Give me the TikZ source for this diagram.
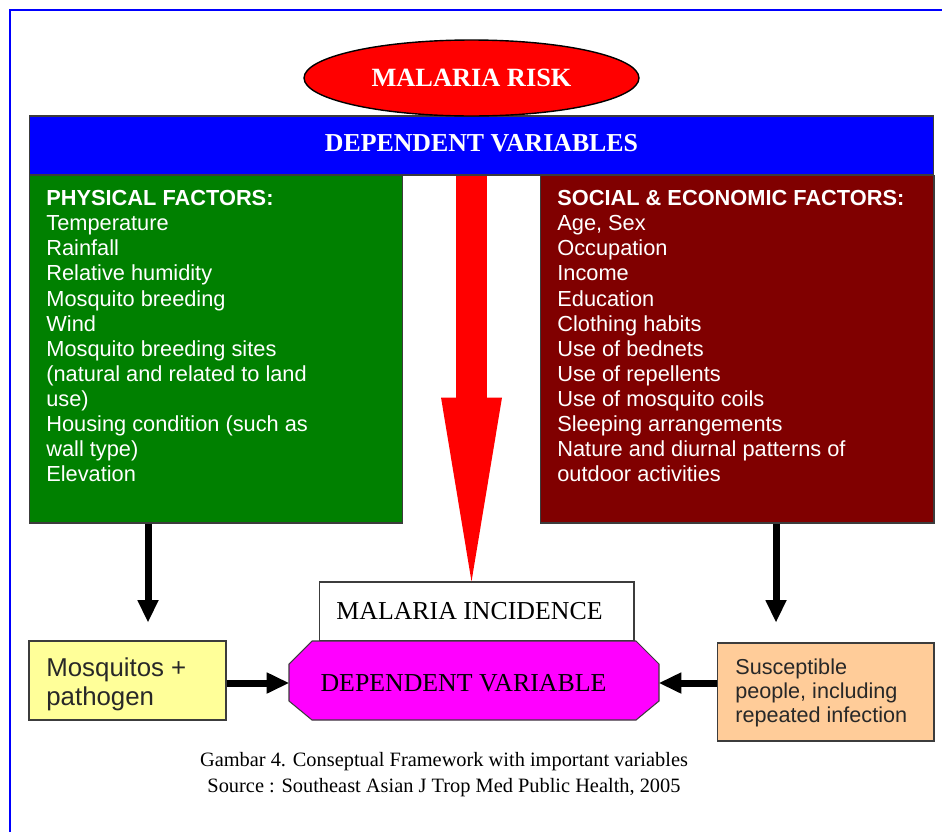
\documentclass[tikz,border=0pt]{standalone}
\usepackage{fontspec}
\setmainfont{Liberation Serif}
\setsansfont{Liberation Sans}
\usetikzlibrary{shapes.geometric,arrows.meta}

\definecolor{barblue}{RGB}{0,0,255}
\definecolor{physgreen}{RGB}{0,128,0}
\definecolor{socmaroon}{RGB}{128,0,0}
\definecolor{mosqyellow}{RGB}{255,255,153}
\definecolor{suscorange}{RGB}{255,204,153}
\definecolor{octmagenta}{RGB}{255,0,255}
\definecolor{edgegray}{RGB}{60,60,60}
\definecolor{textdark}{RGB}{40,40,40}

\begin{document}
\begin{tikzpicture}[x=0.02cm,y=-0.02cm,
    box/.style={rectangle,draw=edgegray,line width=0.6pt,inner sep=0pt},
    boxtext/.style={anchor=north west,inner sep=0pt,align=left,
      font=\sffamily\fontsize{12.4}{14.3}\selectfont},
    bigtext/.style={font=\fontsize{14.7}{17}\selectfont},
    blackarrow/.style={line width=0.14cm,
      -{Triangle[line width=0pt,width=0.43cm,length=0.44cm]}},
    redarrow/.style={red,line width=0.62cm,
      -{Triangle[line width=0pt,width=1.22cm,length=3.68cm]}}]

  \useasboundingbox (0,0) rectangle (942,832);
  \draw[barblue,line width=1.7pt] (10,832) -- (10,10) -- (942,10);

  \begin{scope}[every node/.style={box}]
    \node[fill=barblue,text=white,font=\bfseries\fontsize{14.7}{17}\selectfont,
      minimum width=18.1cm,minimum height=1.18cm] (dep) at (481.5,145.5) {\raisebox{3pt}{DEPENDENT VARIABLES}};
    \node[ellipse,draw=black,line width=0.8pt,fill=red,text=white,
      font=\bfseries\fontsize{15}{18}\selectfont,
      minimum width=6.7cm,minimum height=1.52cm] (risk) at (471.5,78) {MALARIA RISK};
    \node[fill=physgreen,minimum width=7.48cm,minimum height=6.96cm] (phys) at (216,349) {};
    \node[fill=socmaroon,minimum width=7.88cm,minimum height=6.96cm] (soc) at (737,349) {};
    \node[fill=white,bigtext,minimum width=6.3cm,minimum height=1.18cm] (inc) at (476.5,611.5) {MALARIA INCIDENCE\kern 8pt};
    \node[fill=mosqyellow,minimum width=3.94cm,minimum height=1.58cm] (mosq) at (127.5,680.5) {};
    \node[fill=suscorange,minimum width=4.34cm,minimum height=1.96cm] (susc) at (825.5,692) {};
  \end{scope}

  \draw[draw=edgegray,line width=0.6pt,fill=octmagenta]
    (312,641) -- (636,641) -- (659,664) -- (659,701) -- (636,720)
    -- (312,720) -- (289,701) -- (289,664) -- cycle;
  \node[bigtext,inner sep=0pt,minimum width=7.4cm,minimum height=1.58cm] (depv) at (474,683)
    {DEPENDENT VARIABLE\kern 12pt};

  \node[boxtext,text=white] (physt) at (46,190)
    {\textbf{PHYSICAL FACTORS:}\\Temperature\\Rainfall\\Relative humidity\\Mosquito breeding\\Wind\\
     Mosquito breeding sites\\(natural and related to land\\use)\\Housing condition (such as\\wall type)\\Elevation};
  \node[boxtext,text=white] (soct) at (557,190)
    {\textbf{SOCIAL \& ECONOMIC FACTORS:}\\Age, Sex\\Occupation\\Income\\Education\\Clothing habits\\
     Use of bednets\\Use of repellents\\Use of mosquito coils\\Sleeping arrangements\\
     Nature and diurnal patterns of\\outdoor activities};
  \node[boxtext,text=textdark,font=\sffamily\fontsize{14.7}{16.5}\selectfont] (mosqt) at (46,657)
    {Mosquitos +\\pathogen};
  \node[boxtext,text=textdark,font=\sffamily\fontsize{12.3}{13.9}\selectfont] (susct) at (735,658)
    {Susceptible\\people, including\\repeated infection};

  \node[align=center,inner sep=0pt,font=\fontsize{11.6}{14.8}\selectfont] (cap) at (444,775)
    {Gambar 4. Conseptual Framework with important variables\\Source : Southeast Asian J Trop Med Public Health, 2005};

  \coordinate (physend) at (148,622);
  \coordinate (socend) at (776,622);
  \draw[redarrow] (dep.south -| risk.south) -- (inc.north -| risk.south);
  \draw[blackarrow] (phys.south -| physend) -- (physend);
  \draw[blackarrow] (soc.south -| socend) -- (socend);
  \draw[blackarrow] (mosq.east |- depv.west) -- (depv.west);
  \draw[blackarrow] (susc.west |- depv.east) -- (depv.east);

\end{tikzpicture}
\end{document}
